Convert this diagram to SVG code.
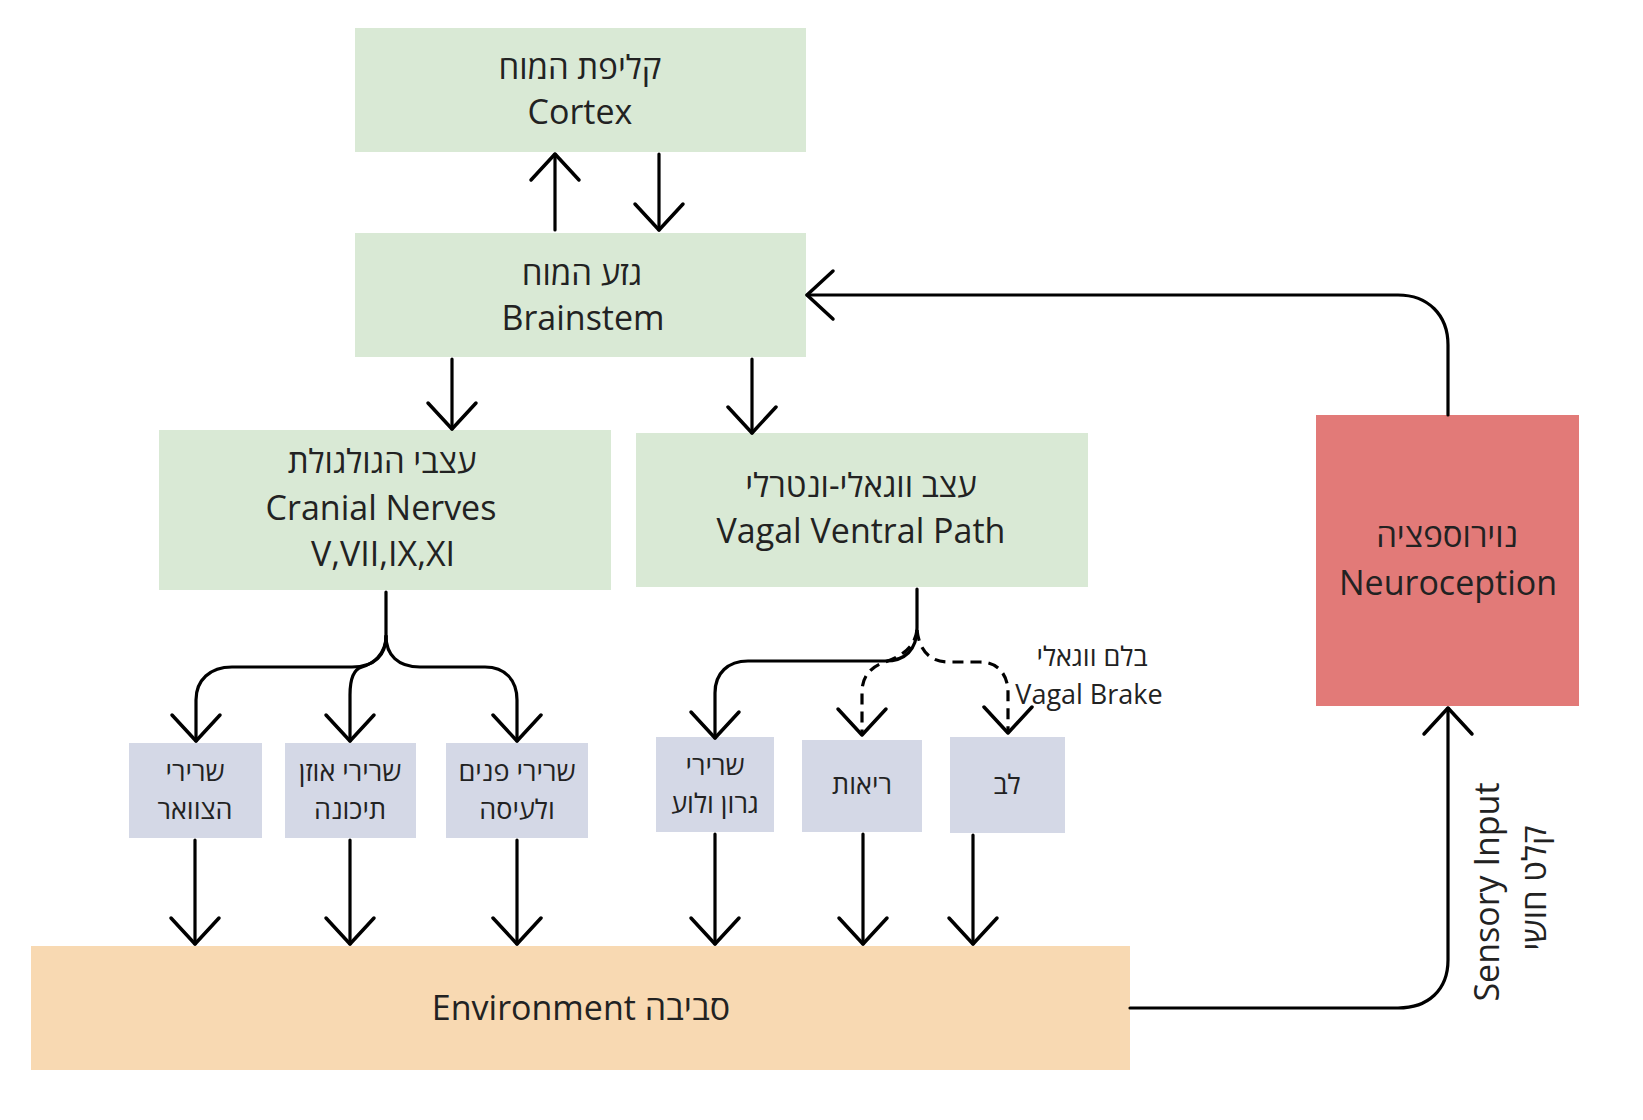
<svg xmlns="http://www.w3.org/2000/svg" width="1643" height="1120" viewBox="0 0 1643 1120">
<style>
text{font-family:"Open Sans","Liberation Sans","DejaVu Sans",sans-serif;fill:#222;text-anchor:middle}
.big{font-size:34px}
.heb{font-size:33px}
.sm{font-size:27px}
.green{fill:#d9e9d5}
.lav{fill:#d4d8e6}
.red{fill:#e27a78}
.env{fill:#f8d9b2}
.ln{fill:none;stroke:#000;stroke-width:3.2;stroke-linecap:round;stroke-linejoin:round}
.dash{stroke-dasharray:11 7;stroke-linecap:butt}
</style>
<defs>
<marker id="ah" markerUnits="userSpaceOnUse" markerWidth="60" markerHeight="60" viewBox="-30 -30 60 60" refX="0" refY="0" orient="auto" overflow="visible">
<path d="M-26,-24 L0,0 L-26,24" fill="none" stroke="#000" stroke-width="3.5" stroke-linecap="round" stroke-linejoin="round" stroke-dasharray="none"/>
</marker>
</defs>
<rect width="1643" height="1120" fill="#fff"/>
<g id="cortex">
<rect class="green" x="355" y="28" width="451" height="124"/>
<text class="heb" x="580" y="79">קליפת המוח</text>
<text class="big" x="580" y="124">Cortex</text>
</g>
<g id="brainstem">
<rect class="green" x="355" y="233" width="451" height="124"/>
<text class="heb" x="582" y="285">גזע המוח</text>
<text class="big" x="583" y="330">Brainstem</text>
</g>
<g id="cranial">
<rect class="green" x="159" y="430" width="452" height="160"/>
<text class="heb" x="382" y="473">עצבי הגולגולת</text>
<text class="big" x="381" y="520">Cranial Nerves</text>
<text class="big" x="383" y="566">V,VII,IX,XI</text>
</g>
<g id="vagal">
<rect class="green" x="636" y="433" width="452" height="154"/>
<text class="heb" x="861" y="497">עצב ווגאלי-ונטרלי</text>
<text class="big" x="861" y="543">Vagal Ventral Path</text>
</g>
<g id="neuroception">
<rect class="red" x="1316" y="415" width="263" height="291"/>
<text class="heb" x="1447" y="547">נוירוספציה</text>
<text class="big" x="1448" y="595">Neuroception</text>
</g>
<g id="environment">
<rect class="env" x="31" y="946" width="1099" height="124"/>
<text class="big" x="581" y="1020">Environment סביבה</text>
</g>
<g id="neck">
<rect class="lav" x="129" y="743" width="133" height="95"/>
<text class="sm" x="195" y="781">שרירי</text>
<text class="sm" x="195" y="819">הצוואר</text>
</g>
<g id="ear">
<rect class="lav" x="285" y="743" width="131" height="95"/>
<text class="sm" x="350" y="781">שרירי אוזן</text>
<text class="sm" x="350" y="819">תיכונה</text>
</g>
<g id="face">
<rect class="lav" x="446" y="743" width="142" height="95"/>
<text class="sm" x="517" y="781">שרירי פנים</text>
<text class="sm" x="517" y="819">ולעיסה</text>
</g>
<g id="throat">
<rect class="lav" x="656" y="737" width="118" height="95"/>
<text class="sm" x="715" y="775">שרירי</text>
<text class="sm" x="715" y="813">גרון ולוע</text>
</g>
<g id="lungs">
<rect class="lav" x="802" y="740" width="120" height="92"/>
<text class="sm" x="862" y="794">ריאות</text>
</g>
<g id="heart">
<rect class="lav" x="950" y="737" width="115" height="96"/>
<text class="sm" x="1007" y="794">לב</text>
</g>
<g id="connectors">
<path class="ln" d="M555,230 V154" marker-end="url(#ah)"/>
<path class="ln" d="M659,154 V230" marker-end="url(#ah)"/>
<path class="ln" d="M452,359 V429" marker-end="url(#ah)"/>
<path class="ln" d="M752,359 V433" marker-end="url(#ah)"/>
<path class="ln" d="M1448,415 V345 C1448,315 1428,295 1398,295 H807" marker-end="url(#ah)"/>
<path class="ln" d="M1130,1008 H1398 C1428,1008 1448,990 1448,960 V708" marker-end="url(#ah)"/>
<path class="ln" d="M386,592 V636 C386,655 375,667 352,667 H232 C210,667 196,680 196,700 V741" marker-end="url(#ah)"/>
<path class="ln" d="M386,636 C386,655 372,664 362,667 C354,669 350,678 350,695 V741" marker-end="url(#ah)"/>
<path class="ln" d="M386,636 C386,655 398,667 420,667 H485 C505,667 517,680 517,700 V741" marker-end="url(#ah)"/>
<path class="ln" d="M917,589 V628 C917,650 905,661 885,661 H748 C728,661 715,673 715,693 V738" marker-end="url(#ah)"/>
<path class="ln dash" d="M917,630 C915,648 900,657 885,662 C870,667 862,677 862,692 V735" marker-end="url(#ah)"/>
<path class="ln dash" d="M917,630 C919,650 930,662 948,662 H980 C998,662 1008,675 1008,692 V733" marker-end="url(#ah)"/>
<path class="ln" d="M195,840 V944" marker-end="url(#ah)"/>
<path class="ln" d="M350,840 V944" marker-end="url(#ah)"/>
<path class="ln" d="M517,840 V944" marker-end="url(#ah)"/>
<path class="ln" d="M715,834 V944" marker-end="url(#ah)"/>
<path class="ln" d="M863,834 V944" marker-end="url(#ah)"/>
<path class="ln" d="M973,835 V944" marker-end="url(#ah)"/>
</g>
<g id="labels">
<text class="sm" x="1092" y="666">בלם ווגאלי</text>
<text class="sm" x="1089" y="704">Vagal Brake</text>
<text class="big" transform="translate(1499,892) rotate(-90)">Sensory Input</text>
<text class="heb" transform="translate(1546,888) rotate(-90)">קלט חושי</text>
</g>
</svg>
